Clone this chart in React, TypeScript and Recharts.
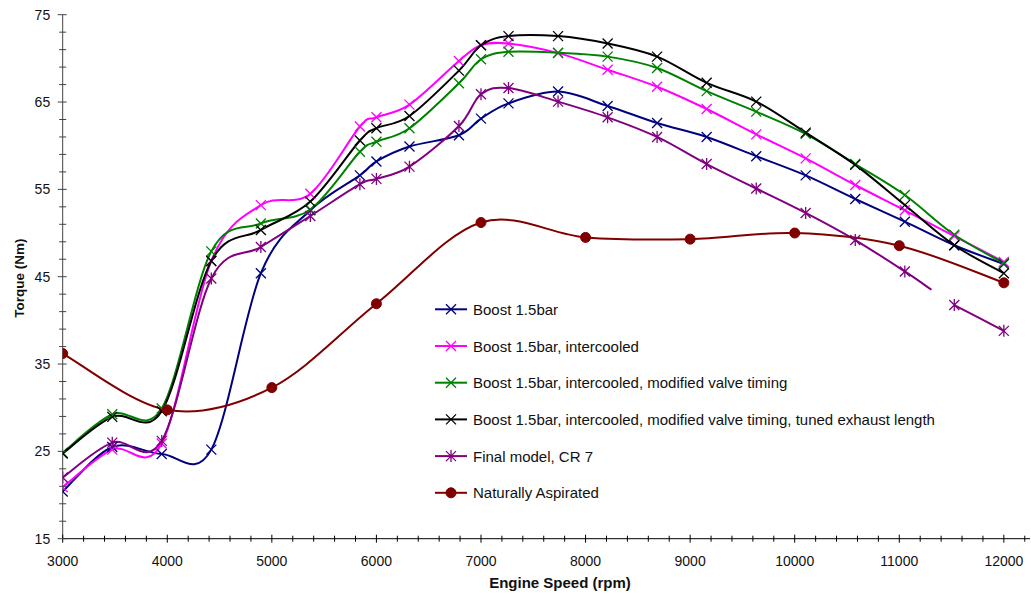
import React from "react";
import { LineChart, Line, XAxis, YAxis, Legend } from "recharts";

// rpm points shared by the boosted runs
const rpmGrid = [3000, 3474, 3947, 4421, 4895, 5368, 5842, 6000, 6316, 6789, 7000, 7263, 7737, 8211, 8684, 9158, 9632, 10105, 10579, 11053, 11526, 12000];
const boost15 = [20.4, 25.5, 24.7, 25.2, 45.4, 52.6, 56.6, 58.2, 59.9, 61.2, 63.1, 64.85, 66.2, 64.55, 62.6, 61.0, 58.8, 56.6, 53.9, 51.3, 48.6, 46.45];
const boostIc = [20.9, 25.2, 25.9, 46.8, 53.2, 54.5, 62.2, 63.25, 64.7, 69.7, 71.5, 71.7, 70.6, 68.7, 66.75, 64.2, 61.3, 58.55, 55.5, 52.6, 49.65, 46.7];
const boostIcVt = [24.85, 29.25, 29.9, 47.9, 51.1, 52.7, 59.3, 60.45, 62.0, 67.15, 69.9, 70.75, 70.65, 70.2, 68.9, 66.25, 63.9, 61.35, 57.9, 54.35, 49.8, 46.55];
const boostIcVtEx = [24.75, 28.95, 29.6, 46.8, 50.35, 53.6, 60.6, 62.0, 63.4, 68.6, 71.5, 72.55, 72.55, 71.7, 70.2, 67.2, 65.05, 61.5, 57.8, 53.2, 48.6, 45.4];
const finalCr7 = [22.0, 26.0, 26.2, 44.8, 48.4, 51.95, 55.6, 56.2, 57.6, 62.25, 65.9, 66.6, 65.05, 63.25, 61.0, 57.9, 55.1, 52.3, 49.2, 45.6, 41.75, 38.8];
// where the drawn final-model line breaks off before 11526 rpm
const finalCr7BreakRpm = 11308;
const finalCr7BreakTorque = 43.5;

const rpmNA = [3000, 4000, 5000, 6000, 7000, 8000, 9000, 10000, 11000, 12000];
const naturallyAspirated = [36.2, 29.75, 32.3, 41.9, 51.2, 49.5, 49.3, 50.0, 48.55, 44.3];

const xMinorTicks = Array.from({ length: 47 }, (_, i) => 3000 + i * 200);
const yMinorTicks = Array.from({ length: 31 }, (_, i) => 15 + i * 2);

const FONT = '"Liberation Sans", Arial, sans-serif';

const toRows = (xs: number[], ys: number[]) => xs.map((x, i) => ({ rpm: x, torque: ys[i] }));

const purpleMain = [
  ...toRows(rpmGrid.slice(0, 20), finalCr7.slice(0, 20)),
  { rpm: finalCr7BreakRpm, torque: finalCr7BreakTorque, hide: true },
];
const purpleTail = toRows(rpmGrid.slice(20), finalCr7.slice(20));

// Excel-like smoothed line (Catmull-Rom through the points)
function excelSmooth(context: any) {
  let pts: number[][] = [];
  return {
    areaStart() {},
    areaEnd() {},
    lineStart() {
      pts = [];
    },
    point(x: number, y: number) {
      pts.push([+x, +y]);
    },
    lineEnd() {
      const n = pts.length;
      if (!n) return;
      context.moveTo(pts[0][0], pts[0][1]);
      for (let i = 0; i < n - 1; i++) {
        const p0 = pts[i - 1] || pts[i];
        const p1 = pts[i];
        const p2 = pts[i + 1];
        const p3 = pts[i + 2] || p2;
        context.bezierCurveTo(
          p1[0] + (p2[0] - p0[0]) / 6,
          p1[1] + (p2[1] - p0[1]) / 6,
          p2[0] - (p3[0] - p1[0]) / 6,
          p2[1] - (p3[1] - p1[1]) / 6,
          p2[0],
          p2[1]
        );
      }
    },
  };
}

type Marker = "cross" | "star" | "circle";

function markerShape(kind: Marker, cx: number, cy: number, color: string, key?: any) {
  const s = 5;
  if (kind === "circle") {
    return <circle key={key} cx={cx} cy={cy} r={5} fill={color} stroke={color} />;
  }
  let d = `M${cx - s},${cy - s}L${cx + s},${cy + s}M${cx + s},${cy - s}L${cx - s},${cy + s}`;
  if (kind === "star") d += `M${cx},${cy - s - 1}L${cx},${cy + s + 1}`;
  return <path key={key} d={d} stroke={color} strokeWidth={1.3} fill="none" />;
}

const makeDot = (kind: Marker, color: string) => (props: any) => {
  const { cx, cy, index, payload } = props;
  if (cx == null || cy == null || (payload && payload.hide)) return <g key={`d-${index}`} />;
  return markerShape(kind, cx, cy, color, `d-${index}`);
};

const series = [
  { name: "Boost 1.5bar", color: "#000080", marker: "cross" as Marker, data: toRows(rpmGrid, boost15) },
  { name: "Boost 1.5bar, intercooled", color: "#FF00FF", marker: "cross" as Marker, data: toRows(rpmGrid, boostIc) },
  { name: "Boost 1.5bar, intercooled, modified valve timing", color: "#008000", marker: "cross" as Marker, data: toRows(rpmGrid, boostIcVt) },
  { name: "Boost 1.5bar, intercooled, modified valve timing, tuned exhaust length", color: "#000000", marker: "cross" as Marker, data: toRows(rpmGrid, boostIcVtEx) },
  { name: "Final model, CR 7", color: "#800080", marker: "star" as Marker, data: purpleMain },
  { name: "Naturally Aspirated", color: "#800000", marker: "circle" as Marker, data: toRows(rpmNA, naturallyAspirated) },
];

const XTick = (props: any) => {
  const { x, y, payload } = props;
  const v = payload.value;
  const major = v % 1000 === 0;
  return (
    <g>
      <line x1={x} x2={x} y1={y - (major ? 4 : 3)} y2={y + (major ? 4 : 3)} stroke="#000" strokeWidth={1} />
      {major && v <= 12000 && (
        <text x={x} y={y + 27} textAnchor="middle" fontSize={14} fontFamily={FONT} fill="#111">
          {v}
        </text>
      )}
    </g>
  );
};

const YTick = (props: any) => {
  const { x, y, payload } = props;
  const v = payload.value;
  const major = (v - 15) % 10 === 0;
  return (
    <g>
      <line x1={x - (major ? 5 : 3.5)} x2={x + (major ? 4 : 3.5)} y1={y} y2={y} stroke="#444" strokeWidth={1} />
      {major && (
        <text x={x - 12.5} y={y + 5} textAnchor="end" fontSize={14} fontFamily={FONT} fill="#111">
          {v}
        </text>
      )}
    </g>
  );
};

const renderLegend = () => (
  <svg width={560} height={220}>
    {series.map((s, i) => {
      const cy = 19.3 + i * 36.7;
      return (
        <g key={s.name}>
          <line x1={5} x2={37} y1={cy} y2={cy} stroke={s.color} strokeWidth={2} />
          {markerShape(s.marker, 21, cy, s.color)}
          <text x={43} y={cy + 5.5} fontSize={15} fontFamily={FONT} fill="#111">
            {s.name}
          </text>
        </g>
      );
    })}
  </svg>
);

export default function App() {
  return (
    <div style={{ position: "absolute", left: 0, top: 0, width: 1031, height: 594, background: "#fff" }}>
      <LineChart width={1031} height={594} margin={{ top: 14.7, right: 1, left: 7.7, bottom: 25.3 }}>
        <XAxis
          type="number"
          dataKey="rpm"
          domain={[3000, 12250]}
          allowDataOverflow
          ticks={xMinorTicks}
          interval={0}
          tickSize={0}
          tickMargin={0}
          tickLine={false}
          tick={<XTick />}
          height={30}
          axisLine={{ stroke: "#000", strokeWidth: 1 }}
          label={{
            content: () => (
              <text x={560} y={588} textAnchor="middle" fontSize={15} fontWeight="bold" fontFamily={FONT} fill="#111">
                Engine Speed (rpm)
              </text>
            ),
          }}
        />
        <YAxis
          type="number"
          domain={[15, 75]}
          ticks={yMinorTicks}
          interval={0}
          tickSize={0}
          tickMargin={0}
          tickLine={false}
          tick={<YTick />}
          width={55}
          axisLine={{ stroke: "#444", strokeWidth: 1 }}
          label={{
            content: () => (
              <text
                x={24}
                y={278}
                transform="rotate(-90 24 278)"
                textAnchor="middle"
                fontSize={13.5}
                fontWeight="bold"
                fontFamily={FONT}
                fill="#111"
              >
                Torque (Nm)
              </text>
            ),
          }}
        />
        <Legend
          layout="vertical"
          align="center"
          verticalAlign="middle"
          content={renderLegend}
          wrapperStyle={{ left: 430, top: 290, width: 560, height: 220 }}
        />
        {series.map((s) => (
          <Line
            key={s.name}
            name={s.name}
            data={s.data}
            dataKey="torque"
            type={excelSmooth as any}
            stroke={s.color}
            strokeWidth={2}
            dot={makeDot(s.marker, s.color)}
            activeDot={false}
            isAnimationActive={false}
          />
        ))}
        <Line
          name="Final model, CR 7 (tail)"
          data={purpleTail}
          dataKey="torque"
          type={excelSmooth as any}
          stroke="#800080"
          strokeWidth={2}
          dot={makeDot("star", "#800080")}
          activeDot={false}
          legendType="none"
          isAnimationActive={false}
        />
      </LineChart>
    </div>
  );
}
